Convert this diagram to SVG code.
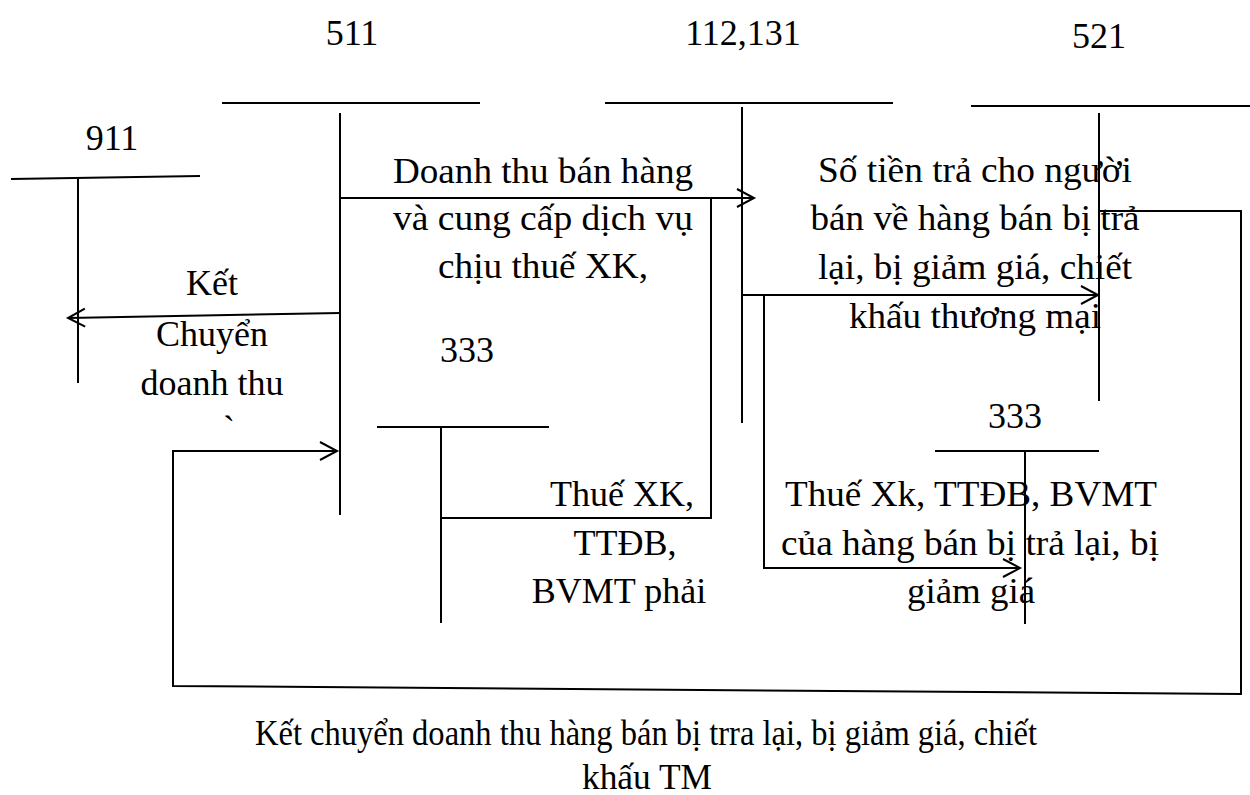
<svg xmlns="http://www.w3.org/2000/svg" width="1250" height="795" viewBox="0 0 1250 795">
<style>
  text { font-family: "Liberation Serif", "Times New Roman", serif; font-size: 36px; fill: #000; text-anchor: middle; }
  .ln { stroke: #000; stroke-width: 2; fill: none; }
</style>
<defs>
  <marker id="arr" markerUnits="userSpaceOnUse" markerWidth="22" markerHeight="24" viewBox="0 -12 22 24" refX="19" refY="0" orient="auto">
    <path d="M2,-9 L19,0 L2,9" fill="none" stroke="#000" stroke-width="2"/>
  </marker>
</defs>
<rect width="1250" height="795" fill="#fff"/>

<g id="acc-911">
  <text x="112" y="150">911</text>
  <path class="ln" d="M11,179 L200,176 M78,178 L78,383"/>
</g>
<g id="acc-511">
  <text x="352" y="45">511</text>
  <path class="ln" d="M222,103 L480,103 M340,113 L340,515"/>
</g>
<g id="acc-112-131">
  <text x="743" y="45">112,131</text>
  <path class="ln" d="M605,103 L893,103 M742,107 L742,423"/>
</g>
<g id="acc-521">
  <text x="1099" y="48">521</text>
  <path class="ln" d="M971,106 L1250,106 M1099,113 L1099,401"/>
</g>
<g id="acc-333-a">
  <text x="467" y="362">333</text>
  <path class="ln" d="M377,427 L549,427 M441,427 L441,623"/>
</g>
<g id="acc-333-b">
  <text x="1015" y="428">333</text>
  <path class="ln" d="M935,451 L1099,451 M1025,451 L1025,624"/>
</g>

<g id="connectors">
  <path class="ln" d="M340,198 L754,198" marker-end="url(#arr)"/>
  <path class="ln" d="M441,518 L711,518 L711,198"/>
  <path class="ln" d="M340,313 L68,318" marker-end="url(#arr)"/>
  <path class="ln" d="M742,295 L1098,295" marker-end="url(#arr)"/>
  <path class="ln" d="M764,294 L764,568 L1020,568" marker-end="url(#arr)"/>
  <path class="ln" d="M1099,211 L1241,211 L1241,694 L173,686 L173,451 L337,451" marker-end="url(#arr)"/>
</g>

<g id="labels">
  <text x="543" y="183" textLength="300" lengthAdjust="spacingAndGlyphs">Doanh thu bán hàng</text>
  <text x="543" y="230" textLength="300" lengthAdjust="spacingAndGlyphs">và cung cấp dịch vụ</text>
  <text x="543" y="278" textLength="210" lengthAdjust="spacingAndGlyphs">chịu thuế XK,</text>

  <text x="212" y="295">Kết</text>
  <text x="212" y="346">Chuyển</text>
  <text x="212" y="395">doanh thu</text>
  <text x="229" y="441">`</text>

  <text x="975" y="182" textLength="314" lengthAdjust="spacingAndGlyphs">Số tiền trả cho người</text>
  <text x="975" y="230" textLength="329" lengthAdjust="spacingAndGlyphs">bán về hàng bán bị trả</text>
  <text x="975" y="279" textLength="314" lengthAdjust="spacingAndGlyphs">lại, bị giảm giá, chiết</text>
  <text x="975" y="328" textLength="252" lengthAdjust="spacingAndGlyphs">khấu thương mại</text>

  <text x="622" y="506">Thuế XK,</text>
  <text x="625" y="555">TTĐB,</text>
  <text x="619" y="603">BVMT phải</text>

  <text x="971" y="506" textLength="372" lengthAdjust="spacingAndGlyphs">Thuế Xk, TTĐB, BVMT</text>
  <text x="970" y="555" textLength="378" lengthAdjust="spacingAndGlyphs">của hàng bán bị trả lại, bị</text>
  <text x="971" y="603" textLength="128" lengthAdjust="spacingAndGlyphs">giảm giá</text>

  <text x="646" y="745" textLength="782" lengthAdjust="spacingAndGlyphs">Kết chuyển doanh thu hàng bán bị trra lại, bị giảm giá, chiết</text>
  <text x="647" y="789" textLength="130" lengthAdjust="spacingAndGlyphs">khấu TM</text>
</g>
</svg>
